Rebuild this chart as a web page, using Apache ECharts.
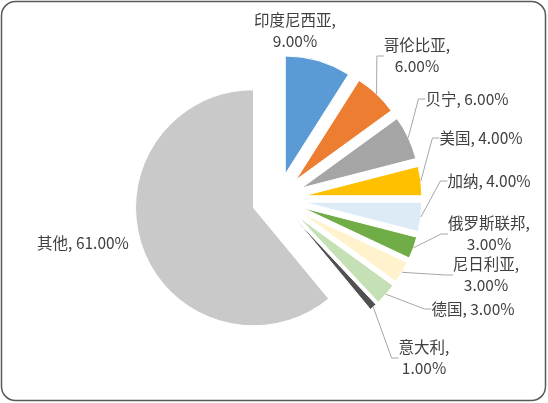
<!DOCTYPE html>
<html>
<head>
<meta charset="utf-8">
<script src="https://cdn.jsdelivr.net/npm/echarts@6/dist/echarts.min.js"></script>
<style>
  html, body { margin: 0; padding: 0; background: #fff; }
  #chart { width: 548px; height: 403px; }
</style>
</head>
<body>
<div id="chart"></div>
<script>
// share by country, percent
var countries = ['印度尼西亚', '哥伦比亚', '贝宁', '美国', '加纳', '俄罗斯联邦', '尼日利亚', '德国', '意大利', '其他'];
var shares = [9, 6, 6, 4, 4, 3, 3, 3, 1, 61];

var colors = ['#5B9BD5', '#ED7D31', '#A5A5A5', '#FFC000', '#DDEBF7', '#70AD47', '#FFF2CC', '#C5E0B4', '#505050', '#C9C9C9'];
// labels that wrap onto two lines in the original
var wrapped = ['印度尼西亚', '哥伦比亚', '俄罗斯联邦', '尼日利亚', '意大利'];
// where each label sits (centre of the text block)
var labelAt = [[295, 31], [417, 56], [467, 99], [481, 138], [489, 181], [489, 234], [486, 275], [473, 309], [424, 358], [83, 243]];

var pieCenter = [278, 199];
var pieR = 118;
var explode = 26;

var chart = echarts.init(document.getElementById('chart'));

var sliceData = [], labelData = [];
for (var i = 0; i < countries.length; i++) {
    sliceData.push({
        name: countries[i],
        value: shares[i],
        selected: true,
        itemStyle: {color: colors[i]}
    });
    labelData.push({
        name: countries[i],
        value: shares[i],
        labelLine: {show: !(i === 0 || i === 9)}
    });
}

var option = {
    animation: false,
    graphic: [{
        type: 'rect',
        shape: {x: 1.5, y: 1.5, width: 544, height: 399, r: 14},
        style: {fill: 'none', stroke: '#595959', lineWidth: 1.5},
        silent: true
    }],
    series: [{
        // the exploded slices
        type: 'pie',
        center: pieCenter,
        radius: pieR,
        startAngle: 90,
        clockwise: true,
        selectedMode: 'multiple',
        selectedOffset: explode,
        itemStyle: {borderColor: '#fff', borderWidth: 1},
        select: {itemStyle: {borderColor: '#fff', borderWidth: 1}},
        emphasis: {disabled: true},
        label: {show: false},
        labelLine: {show: false},
        data: sliceData
    }, {
        // same shares, invisible, only carries the labels and leader lines
        type: 'pie',
        center: pieCenter,
        radius: pieR + explode,
        startAngle: 90,
        clockwise: true,
        silent: true,
        z: 3,
        avoidLabelOverlap: false,
        itemStyle: {color: 'rgba(0,0,0,0)', borderWidth: 0},
        emphasis: {disabled: true},
        label: {
            show: true,
            position: 'outside',
            color: '#404040',
            fontSize: 15.5,
            lineHeight: 21,
            fontFamily: '"Noto Sans CJK SC", sans-serif',
            formatter: function (p) {
                var sep = wrapped.indexOf(p.name) >= 0 ? ',\n' : ', ';
                return p.name + sep + p.value.toFixed(2) + '%';
            }
        },
        labelLine: {
            show: true,
            length: 8,
            length2: 7,
            lineStyle: {color: '#A6A6A6', width: 1}
        },
        labelLayout: function (params) {
            var pos = labelAt[params.dataIndex];
            return {x: pos[0], y: pos[1], align: 'center', verticalAlign: 'middle'};
        },
        data: labelData
    }]
};

chart.setOption(option);
</script>
</body>
</html>
